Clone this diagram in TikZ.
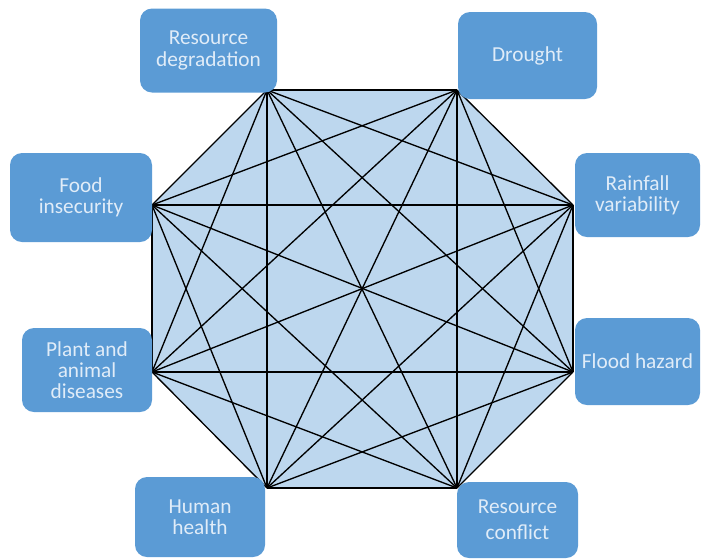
\documentclass[tikz,border=0pt]{standalone}
\usepackage{fontspec}
\setmainfont{Carlito}
\definecolor{boxblue}{RGB}{91,155,213}
\definecolor{octfill}{RGB}{189,215,238}
\definecolor{boxtext}{RGB}{224,236,248}
\begin{document}
\begin{tikzpicture}[x=0.75pt,y=-0.75pt,
  factor/.style={draw=none,fill=boxblue,rounded corners=9pt,text=boxtext,align=center,
    inner sep=0pt,font=\fontsize{16}{16}\selectfont},
  link/.style={draw=black,line width=1pt}]
\useasboundingbox (0,0) rectangle (702,558);
% octagon vertices
\coordinate (v1) at (267,90);
\coordinate (v2) at (457,90);
\coordinate (v3) at (573,205);
\coordinate (v4) at (573,372);
\coordinate (v5) at (457,488);
\coordinate (v6) at (267,488);
\coordinate (v7) at (152,372);
\coordinate (v8) at (152,205);
\fill[octfill] (v1)--(v2)--(v3)--(v4)--(v5)--(v6)--(v7)--(v8)--cycle;
\foreach \a in {1,...,8}{
  \foreach \b in {1,...,8}{
    \ifnum\a<\b \draw[link] (v\a) -- (v\b); \fi
  }
}
% factor boxes
\node[factor,minimum width=137*0.75pt,minimum height=84*0.75pt] (rd) at (208.5,50.5) {Resource\\degradation};
\node[factor,minimum width=139*0.75pt,minimum height=87*0.75pt] (dr) at (527.5,55.5) {Drought};
\node[factor,minimum width=142*0.75pt,minimum height=89*0.75pt] (fi) at (81,197.5) {Food\\insecurity};
\node[factor,minimum width=125*0.75pt,minimum height=84*0.75pt] (rv) at (637.5,195) {Rainfall\\variability};
\node[factor,minimum width=130*0.75pt,minimum height=84*0.75pt] (pa) at (87,370) {Plant and\\animal\\diseases};
\node[factor,minimum width=125*0.75pt,minimum height=87*0.75pt] (fh) at (637.5,361.5) {Flood hazard};
\node[factor,minimum width=130*0.75pt,minimum height=80*0.75pt] (hh) at (200,517) {Human\\health};
\node[factor,minimum width=121*0.75pt,minimum height=76*0.75pt,font=\fontsize{16}{19.5}\selectfont] (rc) at (517.5,520) {Resource\\conflict};
\end{tikzpicture}
\end{document}
